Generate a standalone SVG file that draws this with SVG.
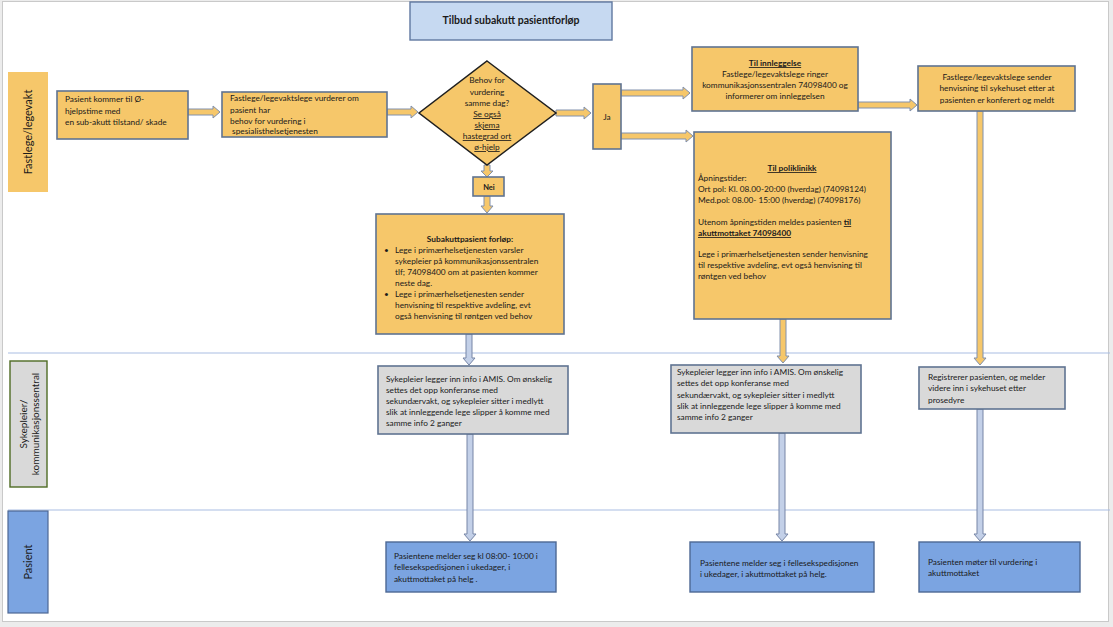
<svg xmlns="http://www.w3.org/2000/svg" width="1113" height="627" viewBox="0 0 1113 627" xml:space="preserve">
<style>
text{font-family:Lato,"Liberation Sans",sans-serif;font-size:8.3px;fill:#1a1a1a}
.o{fill:#f6c76a;stroke:#5f7391;stroke-width:1.6}
.g{fill:#d9d9d9;stroke:#5f7391;stroke-width:1.6}
.b{fill:#7ba4e1;stroke:#4d6894;stroke-width:1.4}
.ao{fill:#f6c76a;stroke:#8090ad;stroke-width:1}
.ab{fill:#c3d0e8;stroke:#7685a6;stroke-width:1}
.c{text-anchor:middle}
.bd{font-weight:bold}
.u{text-decoration:underline}
.lane{stroke:#a9bde2;stroke-width:1}
.lt{font-size:11px}
</style>
<rect width="1113" height="627" fill="#ececec"/>
<rect x="2.5" y="1.5" width="1106" height="620" fill="#ffffff" stroke="#c9c9c9"/>
<g id="lanes">
<line class="lane" x1="8" y1="353" x2="1110" y2="353"/>
<line class="lane" x1="8" y1="510" x2="1110" y2="510"/>
</g>
<g id="title">
<rect x="410" y="2" width="202" height="38" fill="#c6d9f1" stroke="#6078a0" stroke-width="1.4"/>
<text x="511" y="24" class="c bd" style="font-size:10.5px">Tilbud subakutt  pasientforløp</text>
</g>
<g id="lane1">
<rect x="8" y="72" width="40" height="120" fill="#f6c76a"/>
<text transform="translate(28,132) rotate(-90)" y="4" class="c lt">Fastlege/legevakt</text>
</g>
<g id="lane2">
<rect x="10" y="361" width="37" height="126" fill="#d9d9d9" stroke="#4f6b24" stroke-width="1.4"/>
<text transform="translate(28,424) rotate(-90)" class="c" style="font-size:10px"><tspan x="0" y="-1">Sykepleier/</tspan><tspan x="0" y="11">kommunikasjonssentral</tspan></text>
</g>
<g id="lane3">
<rect x="8" y="511" width="40" height="102" fill="#7ba4e1" stroke="#4d6894" stroke-width="1.2"/>
<text transform="translate(28,562) rotate(-90)" y="4" class="c lt">Pasient</text>
</g>
<g id="connectors">
<path class="ao" d="M188 109 H213 V106 L220 112 L213 118 V115 H188 Z"/>
<path class="ao" d="M387 109 H411 V106 L418 112 L411 118 V115 H387 Z"/>
<path class="ao" d="M556 110 H584 V107 L591 113 L584 119 V116 H556 Z"/>
<path class="ao" d="M621 90 H683 V87 L690 93 L683 99 V96 H621 Z"/>
<path class="ao" d="M621 133 H686 V130 L693 136 L686 142 V139 H621 Z"/>
<path class="ao" d="M858 102 H910 V99 L917 105 L910 111 V108 H858 Z"/>
<path class="ao" d="M484 165 V171 H481 L487 177 L493 171 H490 V165 Z"/>
<path class="ao" d="M484 196 V206 H481 L487 213 L493 206 H490 V196 Z"/>
<path class="ab" d="M466 334 V358 H463 L469 365 L475 358 H472 V334 Z"/>
<path class="ab" d="M467 434 V534 H464 L470 541 L476 534 H473 V434 Z"/>
<path class="ao" d="M780 319 V356 H777 L783 363 L789 356 H786 V319 Z"/>
<path class="ab" d="M779 433 V534 H776 L782 541 L788 534 H785 V433 Z"/>
<path class="ao" d="M977 111 V358 H974 L980 365 L986 358 H983 V111 Z"/>
<path class="ab" d="M977 409 V534 H974 L980 541 L986 534 H983 V409 Z"/>
</g>
<g id="n-start">
<rect class="o" x="57" y="91" width="131" height="48"/>
<text><tspan x="65" y="102">Pasient kommer til Ø-</tspan><tspan x="65" y="114">hjelpstime med</tspan><tspan x="65" y="125">en sub-akutt tilstand/ skade</tspan></text>
</g>
<g id="n-vurderer">
<rect class="o" x="222" y="92" width="165" height="45"/>
<text><tspan x="230" y="101">Fastlege/legevaktslege vurderer om</tspan><tspan x="230" y="113">pasient har</tspan><tspan x="230" y="124">behov for vurdering i</tspan><tspan x="230" y="134"> spesialisthelsetjenesten</tspan></text>
</g>
<g id="n-beslutning">
<polygon points="487,61 556,113 487,165 419,113" fill="#f6c76a" stroke="#1f1f1f" stroke-width="1.5"/>
<text class="c"><tspan x="487" y="83">Behov for</tspan><tspan x="487" y="95">vurdering</tspan><tspan x="487" y="106">samme dag?</tspan><tspan x="487" y="117" class="u">Se også</tspan><tspan x="487" y="128" class="u">skjema</tspan><tspan x="487" y="139" class="u">hastegrad ort</tspan><tspan x="487" y="150" class="u">ø-hjelp</tspan></text>
</g>
<g id="n-ja">
<rect class="o" x="593" y="84" width="28" height="65"/>
<text x="607" y="120" class="c">Ja</text>
</g>
<g id="n-nei">
<rect class="o" x="473" y="177" width="31" height="19"/>
<text x="489" y="190" class="c bd" style="font-size:7.5px">Nei</text>
</g>
<g id="n-innleggelse">
<rect class="o" x="692" y="47" width="166" height="64"/>
<text class="c"><tspan x="775" y="66" class="bd u">Til innleggelse</tspan><tspan x="775" y="77">Fastlege/legevaktslege ringer</tspan><tspan x="775" y="88">kommunikasjonssentralen 74098400 og</tspan><tspan x="775" y="99">informerer om innleggelsen</tspan></text>
</g>
<g id="n-henvisning">
<rect class="o" x="918" y="66" width="157" height="45"/>
<text class="c"><tspan x="997" y="80">Fastlege/legevaktslege sender</tspan><tspan x="997" y="91">henvisning til sykehuset etter at</tspan><tspan x="997" y="103">pasienten er konferert og meldt</tspan></text>
</g>
<g id="n-poliklinikk">
<rect class="o" x="694" y="132" width="197" height="187"/>
<text x="792" y="171" class="c bd u">Til poliklinikk</text>
<text><tspan x="698" y="181">Åpningstider:</tspan><tspan x="698" y="192">Ort pol: Kl. 08.00-20:00 (hverdag) (74098124)</tspan><tspan x="698" y="203">Med.pol: 08.00- 15:00 (hverdag) (74098176)</tspan><tspan x="698" y="225">Utenom åpningstiden meldes pasienten <tspan class="bd u">til</tspan></tspan><tspan x="698" y="236" class="bd u">akuttmottaket 74098400</tspan><tspan x="698" y="257">Lege i primærhelsetjenesten sender henvisning</tspan><tspan x="698" y="268">til respektive avdeling,  evt også  henvisning til</tspan><tspan x="698" y="279">røntgen ved behov</tspan></text>
</g>
<g id="n-subakutt">
<rect class="o" x="376" y="214" width="188" height="120"/>
<text x="470" y="242" class="c bd">Subakuttpasient forløp:</text>
<text><tspan x="384" y="253">•</tspan><tspan x="395" y="253">Lege i primærhelsetjenesten varsler</tspan><tspan x="395" y="264">sykepleier på kommunikasjonssentralen</tspan><tspan x="395" y="275">tlf; 74098400 om at pasienten kommer</tspan><tspan x="395" y="286">neste dag.</tspan><tspan x="384" y="297">•</tspan><tspan x="395" y="297">Lege i primærhelsetjenesten sender</tspan><tspan x="395" y="308">henvisning til respektive avdeling,  evt</tspan><tspan x="395" y="319">også  henvisning til røntgen ved behov</tspan></text>
</g>
<g id="n-amis1">
<rect class="g" x="378" y="366" width="190" height="68"/>
<text><tspan x="386" y="382">Sykepleier legger inn info i AMIS. Om ønskelig</tspan><tspan x="386" y="393">settes det opp konferanse med</tspan><tspan x="386" y="404">sekundærvakt, og sykepleier sitter i medlytt</tspan><tspan x="386" y="415">slik at innleggende lege slipper å komme med</tspan><tspan x="386" y="426">samme info 2 ganger</tspan></text>
</g>
<g id="n-amis2">
<rect class="g" x="671" y="365" width="190" height="68"/>
<text><tspan x="677" y="375">Sykepleier legger inn info i AMIS. Om ønskelig</tspan><tspan x="677" y="386">settes det opp konferanse med</tspan><tspan x="677" y="398">sekundærvakt, og sykepleier sitter i medlytt</tspan><tspan x="677" y="409">slik at innleggende lege slipper å komme med</tspan><tspan x="677" y="420">samme info 2 ganger</tspan></text>
</g>
<g id="n-registrerer">
<rect class="g" x="919" y="367" width="146" height="42"/>
<text><tspan x="928" y="380">Registrerer pasienten, og melder</tspan><tspan x="928" y="391">videre inn i sykehuset etter</tspan><tspan x="928" y="403">prosedyre</tspan></text>
</g>
<g id="n-pasient1">
<rect class="b" x="386" y="542" width="170" height="50"/>
<text><tspan x="394" y="559">Pasientene melder seg  kl 08:00- 10:00 i</tspan><tspan x="394" y="570">fellesekspedisjonen i ukedager, i</tspan><tspan x="394" y="582">akuttmottaket på helg .</tspan></text>
</g>
<g id="n-pasient2">
<rect class="b" x="690" y="542" width="184" height="50"/>
<text><tspan x="700" y="566">Pasientene melder seg i fellesekspedisjonen</tspan><tspan x="700" y="577">i ukedager, i akuttmottaket på helg.</tspan></text>
</g>
<g id="n-pasient3">
<rect class="b" x="919" y="542" width="161" height="50"/>
<text><tspan x="928" y="565">Pasienten møter til vurdering i</tspan><tspan x="928" y="576">akuttmottaket</tspan></text>
</g>
</svg>
